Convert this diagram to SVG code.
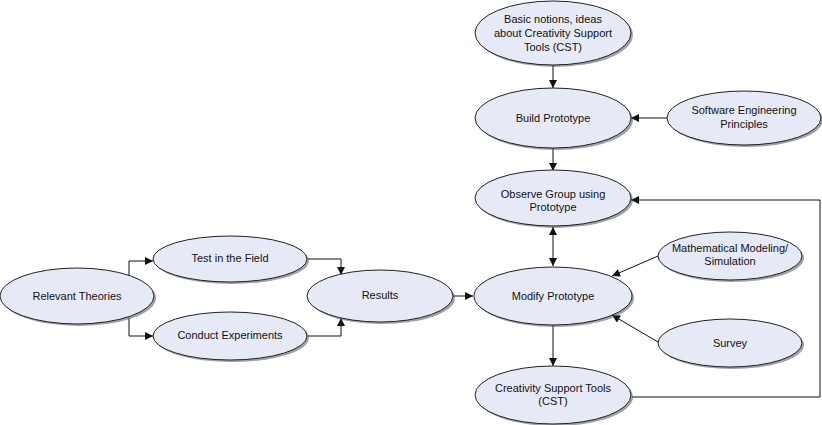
<svg xmlns="http://www.w3.org/2000/svg" width="822" height="425" viewBox="0 0 822 425">
<style>
.n ellipse.s{fill:#555;opacity:0.55}
.n ellipse.f{fill:#e6eaf6;stroke:#222;stroke-width:1}
.n text{font-family:"Liberation Sans",Arial,sans-serif;font-size:11px;fill:#111;text-anchor:middle}
#edges path{fill:none;stroke:#111;stroke-width:1}
</style>
<defs>
<marker id="ah" viewBox="0 0 10 10" refX="10" refY="5" markerWidth="9" markerHeight="8" markerUnits="userSpaceOnUse" orient="auto-start-reverse">
<path d="M0,0 L10,5 L0,10 z" fill="#111"/>
</marker>
</defs>
<rect width="822" height="425" fill="#fff"/>
<g id="edges">
<path d="M553,65 V88" marker-end="url(#ah)"/>
<path d="M667,118 H631" marker-end="url(#ah)"/>
<path d="M553,148 V171" marker-end="url(#ah)"/>
<path d="M553,227 V266" marker-start="url(#ah)" marker-end="url(#ah)"/>
<path d="M658,256 L612,276" marker-end="url(#ah)"/>
<path d="M658,342 L612,315" marker-end="url(#ah)"/>
<path d="M553,325 V366" marker-end="url(#ah)"/>
<path d="M632,397 H820 V200 H631" marker-end="url(#ah)"/>
<path d="M453,296 H473" marker-end="url(#ah)"/>
<path d="M129,275 V261 H153" marker-end="url(#ah)"/>
<path d="M129,318 V336 H153" marker-end="url(#ah)"/>
<path d="M308,259 H341 V275" marker-end="url(#ah)"/>
<path d="M308,336 H341 V318" marker-end="url(#ah)"/>
</g>
<g id="basic" class="n"><ellipse class="s" cx="555" cy="35" rx="78" ry="32"/><ellipse class="f" cx="553" cy="33" rx="78" ry="32"/><text x="553" y="23">Basic notions, ideas</text><text x="553" y="37">about Creativity Support</text><text x="553" y="51">Tools (CST)</text></g>
<g id="build" class="n"><ellipse class="s" cx="555" cy="120" rx="78" ry="30"/><ellipse class="f" cx="553" cy="118" rx="78" ry="30"/><text x="553" y="122">Build Prototype</text></g>
<g id="swe" class="n"><ellipse class="s" cx="746" cy="120" rx="77" ry="27"/><ellipse class="f" cx="744" cy="118" rx="77" ry="27"/><text x="744" y="114">Software Engineering</text><text x="744" y="128">Principles</text></g>
<g id="observe" class="n"><ellipse class="s" cx="555" cy="200" rx="78" ry="28"/><ellipse class="f" cx="553" cy="198" rx="78" ry="28"/><text x="553" y="198">Observe Group using</text><text x="553" y="211">Prototype</text></g>
<g id="modify" class="n"><ellipse class="s" cx="555" cy="298" rx="79" ry="29"/><ellipse class="f" cx="553" cy="296" rx="79" ry="29"/><text x="553" y="300">Modify Prototype</text></g>
<g id="math" class="n"><ellipse class="s" cx="732" cy="258" rx="72" ry="24"/><ellipse class="f" cx="730" cy="256" rx="72" ry="24"/><text x="730" y="252">Mathematical Modeling/</text><text x="730" y="265">Simulation</text></g>
<g id="survey" class="n"><ellipse class="s" cx="732" cy="345" rx="72" ry="24"/><ellipse class="f" cx="730" cy="343" rx="72" ry="24"/><text x="730" y="347">Survey</text></g>
<g id="cst" class="n"><ellipse class="s" cx="555" cy="397" rx="78" ry="29"/><ellipse class="f" cx="553" cy="395" rx="78" ry="29"/><text x="553" y="392">Creativity Support Tools</text><text x="553" y="405">(CST)</text></g>
<g id="theories" class="n"><ellipse class="s" cx="79" cy="298" rx="77" ry="28"/><ellipse class="f" cx="77" cy="296" rx="77" ry="28"/><text x="77" y="300">Relevant Theories</text></g>
<g id="field" class="n"><ellipse class="s" cx="232" cy="261" rx="77" ry="23"/><ellipse class="f" cx="230" cy="259" rx="77" ry="23"/><text x="230" y="262">Test in the Field</text></g>
<g id="experiments" class="n"><ellipse class="s" cx="232" cy="338" rx="77" ry="24"/><ellipse class="f" cx="230" cy="336" rx="77" ry="24"/><text x="230" y="339">Conduct Experiments</text></g>
<g id="results" class="n"><ellipse class="s" cx="382" cy="298" rx="73" ry="26"/><ellipse class="f" cx="380" cy="296" rx="73" ry="26"/><text x="380" y="299">Results</text></g>
</svg>
